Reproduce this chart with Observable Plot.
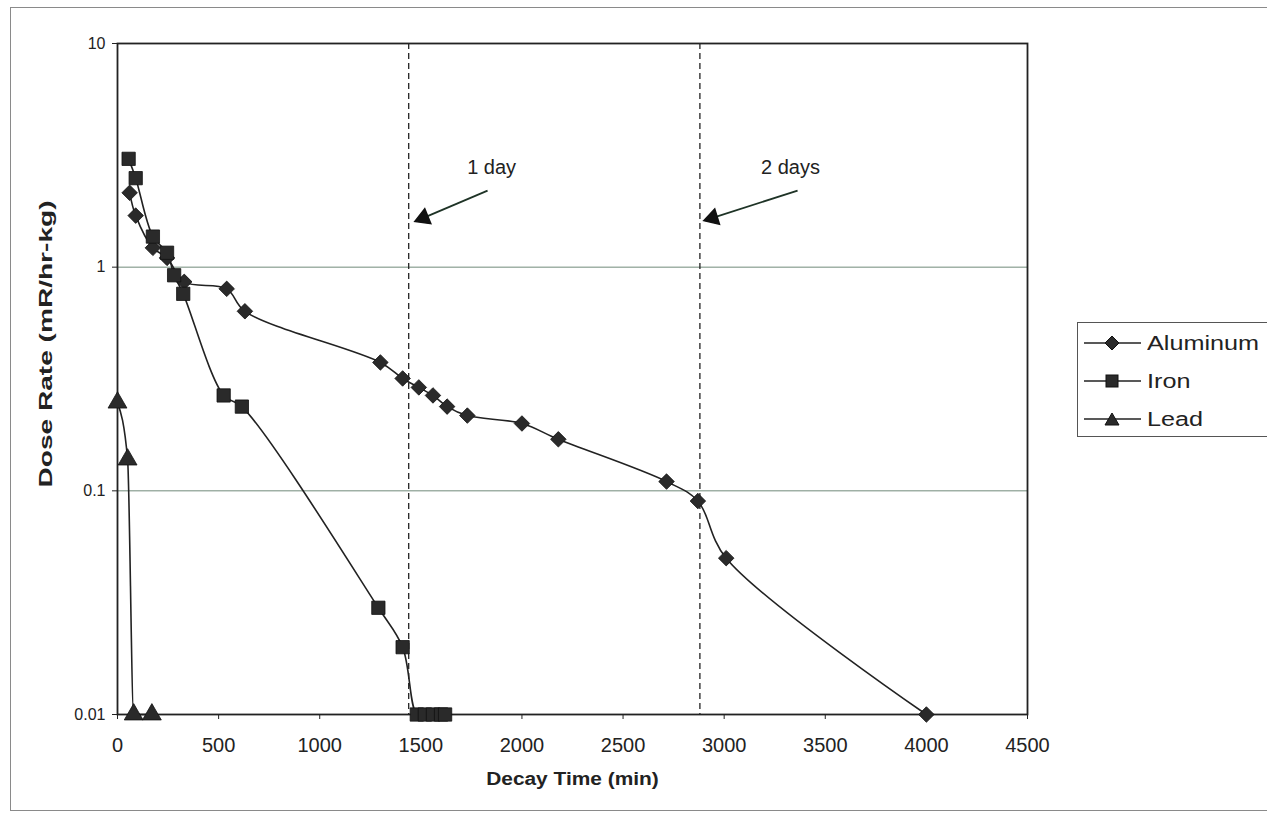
<!DOCTYPE html>
<html>
<head>
<meta charset="utf-8">
<script src="https://cdn.jsdelivr.net/npm/d3@7"></script>
<script src="https://cdn.jsdelivr.net/npm/@observablehq/plot@0.6"></script>
<style>
  html, body { margin: 0; padding: 0; background: #fff; width: 1267px; height: 817px; overflow: hidden; font-family: Arial, "Liberation Sans", sans-serif; }
  #frame { position: absolute; left: 10px; top: 7px; width: 1280px; height: 804px; border: 1px solid #8a8a8a; box-sizing: border-box; }
  #chart { position: absolute; left: 0; top: 0; }
  #legend { position: absolute; left: 1077px; top: 322px; width: 210px; height: 115px; border: 1px solid #555; background: #fff; box-sizing: border-box; }
  .item { position: absolute; left: 6px; height: 30px; display: flex; align-items: center; font-size: 20px; color: #222; }
  .item svg { margin-right: 6px; }
  .item span { display: inline-block; transform: scaleX(1.26); transform-origin: left center; }
</style>
</head>
<body>
<div id="frame"></div>
<div id="chart"></div>
<div id="legend"></div>
<script>
// ---- data ----
const seriesNames = ["Aluminum", "Iron", "Lead"];
const alTime = [60, 90, 175, 245, 330, 540, 630, 1300, 1410, 1490, 1560, 1630, 1730, 2000, 2180, 2715, 2870, 3010, 4000];
const alDose = [2.15, 1.7, 1.22, 1.1, 0.86, 0.8, 0.635, 0.375, 0.318, 0.29, 0.267, 0.238, 0.217, 0.2, 0.17, 0.11, 0.09, 0.05, 0.01];
const feTime = [55, 90, 175, 245, 280, 325, 525, 615, 1290, 1410, 1480, 1520, 1560, 1600, 1620];
const feDose = [3.05, 2.5, 1.37, 1.16, 0.92, 0.76, 0.267, 0.238, 0.03, 0.02, 0.01, 0.01, 0.01, 0.01, 0.01];
const pbTime = [0, 50, 80, 170];
const pbDose = [0.248, 0.138, 0.01, 0.01];
const markerLines = [1440, 2880];
const annLabels = ["1 day", "2 days"];
const annTextX = [1850, 3328];
const annTextY = [2.79, 2.79];
const arrowFromX = [1830, 3363];
const arrowFromY = [2.2, 2.2];
const arrowToX = [1513, 2943];
const arrowToY = [1.66, 1.66];
const arrowAngle = [248, 253];
const yTicks = [0.01, 0.1, 1, 10];
const xTicks = [0, 500, 1000, 1500, 2000, 2500, 3000, 3500, 4000, 4500];
const xTitle = "Decay Time (min)";
const yTitle = "Dose Rate (mR/hr-kg)";

const mk = (t, d, name) => t.map((x, i) => ({x, y: d[i], name}));
const al = mk(alTime, alDose, "Aluminum");
const fe = mk(feTime, feDose, "Iron");
const pb = mk(pbTime, pbDose, "Lead");
const ann = annLabels.map((label, i) => ({label, tx: annTextX[i], ty: annTextY[i],
  x1: arrowFromX[i], y1: arrowFromY[i], x2: arrowToX[i], y2: arrowToY[i], a: arrowAngle[i]}));

const ink = "#222";
const chart = Plot.plot({
  width: 1050, height: 800,
  marginLeft: 117, marginTop: 43, marginRight: 23, marginBottom: 86,
  style: {fontFamily: "Arial, 'Liberation Sans', sans-serif", fontSize: "16px", color: "#222", background: "transparent"},
  x: {domain: [0, 4500], label: null},
  y: {type: "log", domain: [0.01, 10], label: null},
  marks: [
    Plot.gridY([0.1, 1], {stroke: "#718a7a", strokeOpacity: 1, strokeWidth: 1}),
    Plot.ruleX(markerLines, {stroke: ink, strokeWidth: 1.3, strokeDasharray: "6,4"}),
    Plot.frame({stroke: ink, strokeWidth: 1.8}),
    Plot.axisX({ticks: xTicks, tickFormat: () => "", tickSize: 5, label: null}),
    Plot.axisY({ticks: yTicks, tickFormat: () => "", tickSize: 5, label: null}),
    Plot.text(xTicks, {x: d => d, frameAnchor: "bottom", dy: 31, text: d => String(d), fontSize: 20, fill: "#222", lineAnchor: "middle"}),
    Plot.text(yTicks, {y: d => d, frameAnchor: "left", dx: -12, text: d => String(d), fontSize: 16, fill: "#222", textAnchor: "end"}),
    Plot.line(al, {x: "x", y: "y", stroke: ink, strokeWidth: 1.6, curve: "catmull-rom"}),
    Plot.line(fe, {x: "x", y: "y", stroke: ink, strokeWidth: 1.6, curve: "catmull-rom"}),
    Plot.line(pb, {x: "x", y: "y", stroke: ink, strokeWidth: 1.6, curve: "monotone-x"}),
    Plot.dot(al, {x: "x", y: "y", symbol: "diamond2", r: 7, fill: "#2a2a2a", stroke: "#111", strokeWidth: 0.8}),
    Plot.dot(fe, {x: "x", y: "y", symbol: "square", r: 7.5, fill: "#2a2a2a", stroke: "#111", strokeWidth: 0.8}),
    Plot.dot(pb, {x: "x", y: "y", symbol: "triangle", r: 7, fill: "#2a2a2a", stroke: "#111", strokeWidth: 0.8}),
    Plot.link(ann, {x1: "x1", y1: "y1", x2: "x2", y2: "y2", stroke: "#1e3326", strokeWidth: 1.8}),
    Plot.dot(ann, {x: "x2", y: "y2", symbol: "triangle", r: 6, rotate: "a", fill: "#111", stroke: "#111"}),
    Plot.text(ann, {x: "tx", y: "ty", text: "label", fontSize: 20, fill: "#222"}),
    Plot.text([xTitle], {frameAnchor: "bottom", dy: 70, fontSize: 19, fontWeight: "bold", fill: "#222"}),
    Plot.text([yTitle], {frameAnchor: "left", dx: -66, dy: -35, rotate: -90, textAnchor: "middle", fontSize: 18, fontWeight: "bold", fill: "#222"})
  ]
});
document.getElementById("chart").appendChild(chart);

// widen glyphs like the original's stretched lettering
function stretch(content, s) {
  chart.querySelectorAll("text").forEach(t => {
    if (t.textContent !== content) return;
    const x = parseFloat(t.getAttribute("x")) || 0, y = parseFloat(t.getAttribute("y")) || 0;
    t.removeAttribute("x"); t.removeAttribute("y");
    const tr = t.getAttribute("transform") || "";
    t.setAttribute("transform", `${tr} translate(${x},${y}) scale(${s},1)`);
  });
}
stretch(xTitle, 1.1);
stretch(yTitle, 1.56);

// legend
const legend = document.getElementById("legend");
const symPaths = {
  Aluminum: '<path d="M28,2 L35,9 L28,16 L21,9 Z" fill="#2a2a2a" stroke="#111"/>',
  Iron: '<rect x="22" y="3" width="12" height="12" fill="#2a2a2a" stroke="#111"/>',
  Lead: '<path d="M28,3 L35,15 L21,15 Z" fill="#2a2a2a" stroke="#111"/>'
};
const rowTops = [5, 43, 81];
seriesNames.forEach((n, i) => {
  const d = document.createElement("div");
  d.className = "item";
  d.style.top = rowTops[i] + "px";
  d.innerHTML = `<svg width="57" height="18"><line x1="0" y1="9" x2="57" y2="9" stroke="#222" stroke-width="1.6"/>${symPaths[n]}</svg><span>${n}</span>`;
  legend.appendChild(d);
});
</script>
</body>
</html>
